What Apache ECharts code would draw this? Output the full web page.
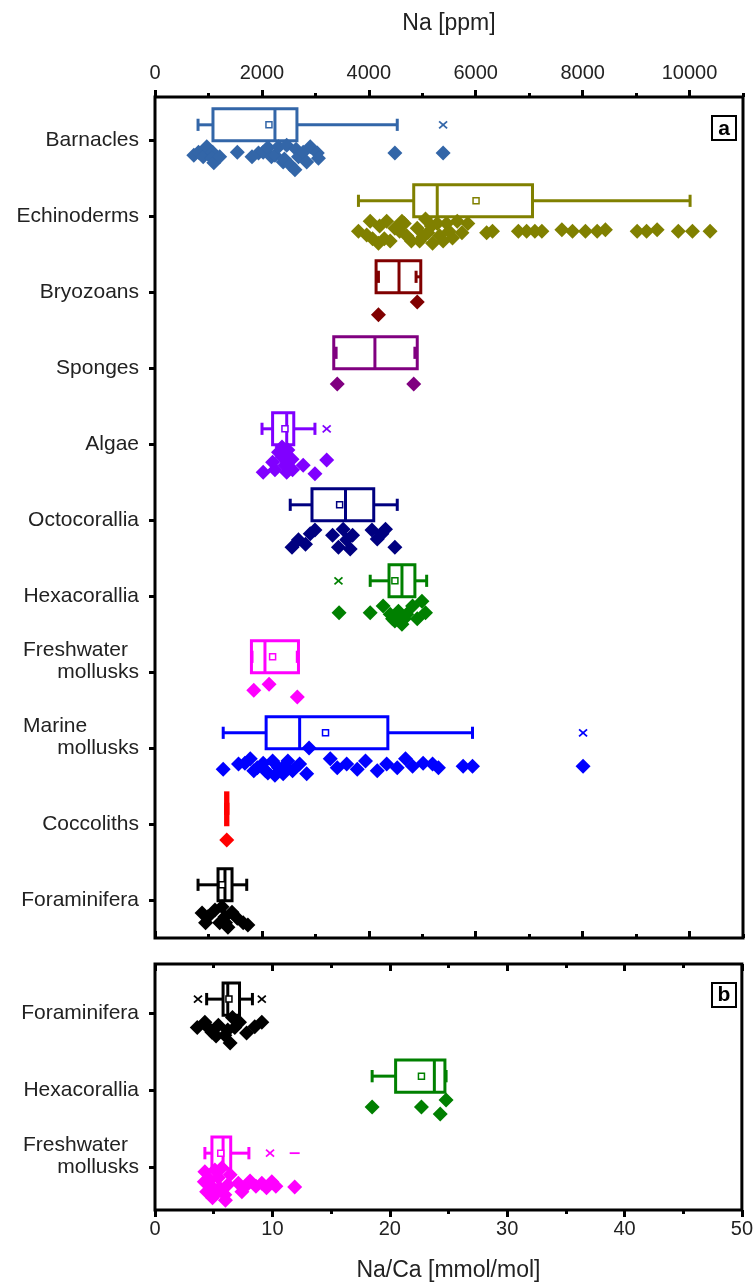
<!DOCTYPE html>
<html>
<head>
<meta charset="utf-8">
<script src="https://cdn.jsdelivr.net/npm/echarts@6/dist/echarts.min.js"></script>
<style>
html, body { margin: 0; padding: 0; background: #fff; }
#main { width: 756px; height: 1284px; }
</style>
</head>
<body>
<div id="main"></div>
<script>
// panel a, rows top to bottom
var topNames = ['Barnacles', 'Echinoderms', 'Bryozoans', 'Sponges', 'Algae', 'Octocorallia',
  'Hexacorallia', 'Freshwater\nmollusks', 'Marine\nmollusks', 'Coccoliths', 'Foraminifera'];
var topColors = ['#3366a8', '#808000', '#800000', '#800080', '#8000ff', '#000080',
  '#008000', '#ff00ff', '#0000ff', '#ff0000', '#000000'];
// whisker low, Q1, median, Q3, whisker high (Na/Ca mmol/mol)
var topBoxes = [
  [3.66, 4.93, 10.2, 12.07, 20.6],
  [17.3, 22.0, 24.0, 32.1, 45.5],
  [19.0, 18.8, 20.75, 22.6, 22.2],
  [15.4, 15.2, 18.7, 22.3, 22.1],
  [9.1, 10.0, 11.2, 11.8, 13.6],
  [11.5, 13.35, 16.2, 18.6, 20.6],
  [18.3, 19.9, 21.0, 22.1, 23.1],
  [8.25, 8.2, 9.35, 12.2, 12.1],
  [5.8, 9.45, 12.3, 19.8, 27.0],
  [6.0, 6.0, 6.1, 6.2, 6.2],
  [3.66, 5.36, 5.95, 6.55, 7.8]
];
// means (null where no mean marker is visible)
var topMeans = [9.69, 27.3, null, null, 11.05, 15.7, 20.4, 10.0, 14.5, null, 5.7];
var topOutliers = [[24.5], [], [], [], [14.6], [], [15.6], [], [36.4], [], []];
// single measurements: [Na/Ca, vertical place below the row tick, in rows]
var topPoints = [
  [[3.3,0.2],[3.7,0.16],[4.1,0.22],[4.4,0.09],[4.9,0.16],[4.85,0.24],[5.0,0.3],[5.5,0.22],[7.0,0.16],
   [8.25,0.22],[8.8,0.17],[9.2,0.16],[9.6,0.1],[9.9,0.22],[10.2,0.2],[10.5,0.09],[10.9,0.29],[11.0,0.25],
   [11.2,0.07],[11.5,0.33],[11.9,0.39],[12.0,0.12],[12.2,0.22],[12.6,0.16],[12.9,0.29],[13.2,0.09],
   [13.8,0.17],[13.9,0.24],[20.4,0.17],[24.5,0.17]],
  [[17.3,0.2],[18.0,0.25],[18.3,0.07],[18.5,0.3],[19.0,0.36],[19.1,0.13],[19.5,0.3],[19.7,0.07],[20.0,0.33],
   [20.4,0.16],[20.8,0.2],[21.0,0.07],[21.2,0.1],[21.4,0.26],[21.8,0.33],[22.3,0.16],[22.5,0.33],[22.8,0.27],
   [23.0,0.04],[23.2,0.22],[23.5,0.13],[23.6,0.36],[24.0,0.1],[24.2,0.26],[24.5,0.33],[24.8,0.1],[25.0,0.2],
   [25.3,0.29],[25.7,0.07],[26.1,0.22],[26.6,0.1],[28.2,0.22],[28.7,0.2],[30.9,0.2],[31.6,0.2],[32.3,0.2],
   [32.9,0.2],[34.6,0.18],[35.5,0.2],[36.6,0.2],[37.6,0.2],[38.3,0.18],[41.0,0.2],[41.8,0.2],[42.7,0.18],
   [44.5,0.2],[45.7,0.2],[47.2,0.2]],
  [[22.3,0.13],[19.0,0.3]],
  [[15.5,0.21],[22.0,0.21]],
  [[9.2,0.37],[10.0,0.24],[10.5,0.11],[10.8,0.17],[11.05,0.28],[11.3,0.08],[11.65,0.2],[11.7,0.34],
   [11.2,0.37],[12.6,0.28],[13.6,0.39],[14.6,0.21],[10.2,0.34],[10.8,0.04]],
  [[11.65,0.36],[12.2,0.26],[12.8,0.32],[13.2,0.18],[13.6,0.13],[15.1,0.2],[15.6,0.36],[16.0,0.12],
   [16.3,0.26],[16.6,0.38],[16.8,0.2],[18.45,0.13],[18.9,0.25],[19.3,0.18],[19.6,0.12],[20.4,0.36]],
  [[15.65,0.22],[18.3,0.22],[19.4,0.13],[20.0,0.24],[20.4,0.33],[20.7,0.2],[21.0,0.37],[21.4,0.24],
   [21.9,0.13],[22.3,0.3],[22.7,0.07],[23.0,0.22],[20.2,0.3],[21.2,0.3]],
  [[8.4,0.24],[9.7,0.16],[12.1,0.33]],
  [[5.8,0.28],[7.1,0.21],[7.65,0.2],[8.1,0.14],[8.4,0.3],[8.7,0.26],[9.2,0.2],[9.4,0.3],[9.6,0.33],
   [10.0,0.17],[10.2,0.36],[10.5,0.26],[10.9,0.34],[11.0,0.24],[11.3,0.17],[11.7,0.3],[12.3,0.21],
   [12.9,0.34],[13.1,0.0],[14.9,0.14],[15.5,0.26],[16.3,0.21],[17.2,0.28],[17.9,0.17],[18.9,0.3],
   [19.7,0.21],[20.6,0.26],[21.3,0.14],[21.9,0.24],[22.8,0.2],[23.6,0.21],[24.1,0.26],[26.2,0.24],
   [27.0,0.24],[36.4,0.24]],
  [[6.1,0.21]],
  [[4.0,0.17],[4.3,0.3],[4.5,0.22],[5.1,0.13],[5.5,0.3],[5.7,0.09],[5.95,0.22],[6.0,0.3],[6.2,0.36],
   [6.55,0.16],[7.0,0.24],[7.5,0.3],[7.9,0.33]]
];

// panel b
var botNames = ['Foraminifera', 'Hexacorallia', 'Freshwater\nmollusks'];
var botColors = ['#000000', '#008000', '#ff00ff'];
var botBoxes = [
  [4.4, 5.8, 6.2, 7.2, 8.3],
  [18.5, 20.5, 23.8, 24.7, 24.8],
  [4.25, 4.85, 5.8, 6.45, 8.0]
];
var botMeans = [6.3, 22.7, 5.6];
var botOutliers = [[3.66, 9.1], [], [9.8]];
var botDashes = [[], [], [11.9]];
var botPoints = [
  [[3.6,0.19],[4.25,0.12],[4.6,0.2],[4.85,0.25],[5.2,0.3],[5.4,0.16],[5.95,0.29],[6.2,0.22],[6.4,0.39],
   [6.6,0.06],[6.8,0.19],[7.2,0.12],[7.8,0.26],[8.5,0.18],[9.1,0.12]],
  [[18.5,0.22],[22.7,0.22],[24.8,0.13],[24.3,0.31]],
  [[4.2,0.19],[4.25,0.06],[4.4,0.32],[4.7,0.17],[4.8,0.25],[4.9,0.4],[5.1,0.04],[5.2,0.34],[5.4,0.14],
   [5.5,0.27],[5.7,0.01],[5.95,0.36],[6.0,0.43],[6.2,0.23],[6.4,0.1],[7.1,0.21],[7.4,0.32],[7.65,0.26],
   [8.1,0.18],[8.6,0.25],[9.1,0.21],[9.5,0.27],[9.95,0.19],[10.3,0.25],[11.9,0.26]]
];

var ppmLabels = [0, 2000, 4000, 6000, 8000, 10000];

var FONT = '"Liberation Sans", Arial, Helvetica, sans-serif';
var TXT = '#222';
var BOX_H = 0.42;
var CAP_H = 0.16;

function boxRenderer(colors, shift) {
  return function (params, api) {
    var row = api.value(0) + shift;
    var at = function (v) { return api.coord([v, row]); };
    var lo = at(api.value(1)), q1 = at(api.value(2)), md = at(api.value(3));
    var q3 = at(api.value(4)), hi = at(api.value(5));
    var h = api.size([0, BOX_H])[1];
    var c = api.size([0, CAP_H])[1];
    var y = q1[1];
    var col = colors[params.dataIndex];
    var ls = { stroke: col, lineWidth: 3 };
    var kids = [
      { type: 'line', shape: { x1: lo[0], y1: y, x2: q1[0], y2: y }, style: ls },
      { type: 'line', shape: { x1: q3[0], y1: y, x2: hi[0], y2: y }, style: ls },
      { type: 'line', shape: { x1: lo[0], y1: y - c / 2, x2: lo[0], y2: y + c / 2 }, style: ls },
      { type: 'line', shape: { x1: hi[0], y1: y - c / 2, x2: hi[0], y2: y + c / 2 }, style: ls },
      { type: 'rect', shape: { x: q1[0], y: y - h / 2, width: q3[0] - q1[0], height: h },
        style: { fill: 'none', stroke: col, lineWidth: 3 } },
      { type: 'line', shape: { x1: md[0], y1: y - h / 2, x2: md[0], y2: y + h / 2 }, style: ls }
    ];
    var m = api.value(6);
    if (!isNaN(m)) {
      var mn = at(m);
      kids.push({ type: 'rect', shape: { x: mn[0] - 3, y: y - 3, width: 6, height: 6 },
        style: { fill: '#fff', stroke: col, lineWidth: 1.5 } });
    }
    return { type: 'group', children: kids };
  };
}

function markRenderer(colors, shift, kind) {
  return function (params, api) {
    var p = api.coord([api.value(0), api.value(1) + shift]);
    var col = colors[api.value(1)];
    var st = { stroke: col, lineWidth: 1.8 };
    if (kind == 'dash') {
      return { type: 'line', shape: { x1: p[0] - 5, y1: p[1], x2: p[0] + 5, y2: p[1] }, style: st };
    }
    return {
      type: 'group',
      children: [
        { type: 'line', shape: { x1: p[0] - 4, y1: p[1] - 3.5, x2: p[0] + 4, y2: p[1] + 3.5 }, style: st },
        { type: 'line', shape: { x1: p[0] - 4, y1: p[1] + 3.5, x2: p[0] + 4, y2: p[1] - 3.5 }, style: st }
      ]
    };
  };
}

function catLabel(names) {
  return function (v) {
    var name = names[Math.round(v)];
    if (name == null) return '';
    var parts = name.split('\n');
    if (parts.length == 1) return '{s|' + name + '}';
    return '{l1|' + parts[0] + '}\n{s|' + parts[1] + '}\n{s| }';
  };
}

function flat(list) {
  var out = [];
  list.forEach(function (vals, i) {
    vals.forEach(function (v) { out.push([v, i]); });
  });
  return out;
}

var tickStyle = { color: '#000', width: 3 };
var labelRich = {
  s: { fontSize: 21, fontFamily: FONT, color: TXT, lineHeight: 22 },
  l1: { fontSize: 21, fontFamily: FONT, color: TXT, lineHeight: 22, width: 116, align: 'left' }
};

function yAxisFor(grid, names, min, max) {
  var rows = names.map(function (n, i) { return i; });
  return {
    gridIndex: grid, type: 'value', position: 'left', inverse: true, min: min, max: max,
    axisLine: { show: false, onZero: false },
    splitLine: { show: false },
    axisTick: { show: true, customValues: rows, length: 6, lineStyle: tickStyle },
    axisLabel: { customValues: rows, formatter: catLabel(names), margin: 16, rich: labelRich }
  };
}

var series = [];
series.push({
  type: 'custom', coordinateSystem: 'cartesian2d', xAxisIndex: 4, yAxisIndex: 0, silent: true,
  renderItem: boxRenderer(topColors, -0.2),
  encode: { x: [1, 2, 3, 4, 5, 6], y: 0 },
  data: topBoxes.map(function (b, i) { return [i].concat(b, [topMeans[i] == null ? '-' : topMeans[i]]); })
});
series.push({
  type: 'custom', coordinateSystem: 'cartesian2d', xAxisIndex: 4, yAxisIndex: 0, silent: true,
  renderItem: markRenderer(topColors, -0.2, 'x'), encode: { x: 0, y: 1 },
  data: flat(topOutliers)
});
topPoints.forEach(function (pts, i) {
  series.push({
    type: 'scatter', xAxisIndex: 4, yAxisIndex: 0, silent: true,
    symbol: 'diamond', symbolSize: 15,
    itemStyle: { color: topColors[i], opacity: 1 },
    data: pts.map(function (p) { return [p[0], i + p[1]]; })
  });
});
series.push({
  type: 'custom', coordinateSystem: 'cartesian2d', xAxisIndex: 5, yAxisIndex: 1, silent: true,
  renderItem: boxRenderer(botColors, -0.18),
  encode: { x: [1, 2, 3, 4, 5, 6], y: 0 },
  data: botBoxes.map(function (b, i) { return [i].concat(b, [botMeans[i]]); })
});
series.push({
  type: 'custom', coordinateSystem: 'cartesian2d', xAxisIndex: 5, yAxisIndex: 1, silent: true,
  renderItem: markRenderer(botColors, -0.18, 'x'), encode: { x: 0, y: 1 },
  data: flat(botOutliers)
});
series.push({
  type: 'custom', coordinateSystem: 'cartesian2d', xAxisIndex: 5, yAxisIndex: 1, silent: true,
  renderItem: markRenderer(botColors, -0.18, 'dash'), encode: { x: 0, y: 1 },
  data: flat(botDashes)
});
botPoints.forEach(function (pts, i) {
  series.push({
    type: 'scatter', xAxisIndex: 5, yAxisIndex: 1, silent: true,
    symbol: 'diamond', symbolSize: 15,
    itemStyle: { color: botColors[i], opacity: 1 },
    data: pts.map(function (p) { return [p[0], i + p[1]]; })
  });
});

var tickLabel = { fontSize: 20, fontFamily: FONT, color: TXT };

var option = {
  animation: false,
  backgroundColor: '#fff',
  grid: [
    { left: 155, top: 97, width: 588, height: 841, show: true, borderColor: '#000', borderWidth: 3 },
    { left: 155, top: 964, width: 588, height: 246, show: true, borderColor: '#000', borderWidth: 3 }
  ],
  xAxis: [
    // 0: Na ppm labels, small ticks every 1000
    { gridIndex: 0, type: 'value', position: 'top', min: 0, max: 11000, interval: 1000,
      name: 'Na [ppm]', nameLocation: 'middle', nameGap: 62,
      nameTextStyle: { fontSize: 23, fontFamily: FONT, color: TXT },
      axisLine: { show: false, onZero: false }, splitLine: { show: false },
      axisTick: { show: true, length: 4, lineStyle: tickStyle },
      axisLabel: Object.assign({ customValues: ppmLabels, margin: 14,
        formatter: function (v) { return String(v); } }, tickLabel) },
    // 1: Na ppm major ticks
    { gridIndex: 0, type: 'value', position: 'top', min: 0, max: 11000,
      axisLine: { show: false, onZero: false }, splitLine: { show: false },
      axisTick: { show: true, customValues: ppmLabels, length: 7, lineStyle: tickStyle },
      axisLabel: { show: false } },
    // 2, 3: inner ticks on the bottom edge of panel a
    { gridIndex: 0, type: 'value', position: 'bottom', min: 0, max: 11000, interval: 1000,
      axisLine: { show: false, onZero: false }, splitLine: { show: false },
      axisTick: { show: true, inside: true, length: 4, lineStyle: tickStyle },
      axisLabel: { show: false } },
    { gridIndex: 0, type: 'value', position: 'bottom', min: 0, max: 11000,
      axisLine: { show: false, onZero: false }, splitLine: { show: false },
      axisTick: { show: true, inside: true, customValues: ppmLabels, length: 7, lineStyle: tickStyle },
      axisLabel: { show: false } },
    // 4: Na/Ca scale of panel a (hidden)
    { gridIndex: 0, type: 'value', position: 'bottom', min: 0, max: 50, show: false,
      axisLine: { onZero: false } },
    // 5: Na/Ca of panel b
    { gridIndex: 1, type: 'value', position: 'bottom', min: 0, max: 50, interval: 10,
      name: 'Na/Ca [mmol/mol]', nameLocation: 'middle', nameGap: 49,
      nameTextStyle: { fontSize: 23, fontFamily: FONT, color: TXT },
      axisLine: { show: false, onZero: false }, splitLine: { show: false },
      axisTick: { show: true, length: 7, lineStyle: tickStyle },
      minorTick: { show: true, splitNumber: 2, length: 4, lineStyle: tickStyle },
      axisLabel: Object.assign({ margin: 9 }, tickLabel) },
    // 6: inner ticks on top edge of panel b
    { gridIndex: 1, type: 'value', position: 'top', min: 0, max: 50, interval: 10,
      axisLine: { show: false, onZero: false }, splitLine: { show: false },
      axisTick: { show: true, inside: true, length: 7, lineStyle: tickStyle },
      minorTick: { show: true, splitNumber: 2, length: 4, lineStyle: tickStyle },
      axisLabel: { show: false } }
  ],
  yAxis: [
    yAxisFor(0, topNames, -0.566, 10.5),
    yAxisFor(1, botNames, -0.636, 2.558)
  ],
  graphic: [
    { type: 'group', left: 711, top: 115, children: [
      { type: 'rect', shape: { x: 0, y: 0, width: 24, height: 24 },
        style: { fill: '#fff', stroke: '#000', lineWidth: 2 } },
      { type: 'text', x: 12, y: 13, style: { text: 'a', font: 'bold 21px ' + FONT, fill: '#000',
        align: 'center', verticalAlign: 'middle' } }
    ] },
    { type: 'group', left: 711, top: 982, children: [
      { type: 'rect', shape: { x: 0, y: 0, width: 24, height: 24 },
        style: { fill: '#fff', stroke: '#000', lineWidth: 2 } },
      { type: 'text', x: 12, y: 12, style: { text: 'b', font: 'bold 21px ' + FONT, fill: '#000',
        align: 'center', verticalAlign: 'middle' } }
    ] }
  ],
  series: series
};

var myChart = echarts.init(document.getElementById('main'));
myChart.setOption(option);
</script>
</body>
</html>
